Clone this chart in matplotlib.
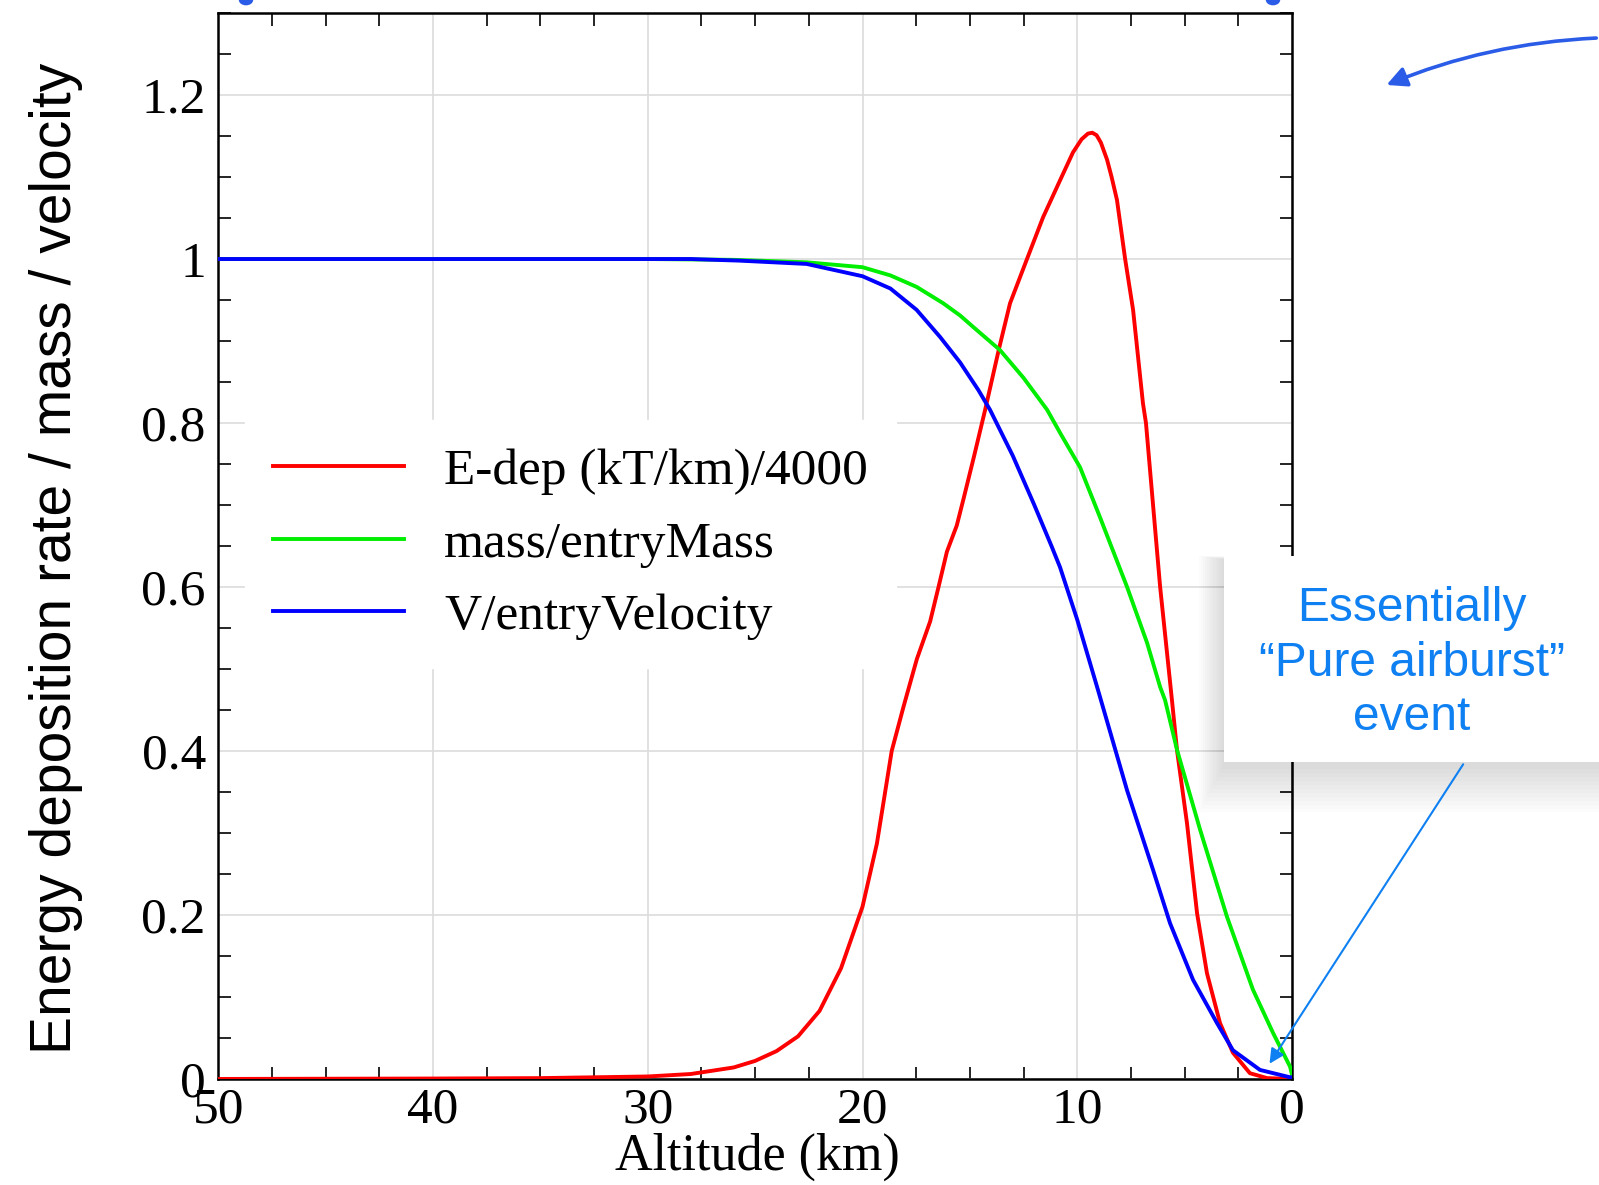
import matplotlib
matplotlib.use("Agg")
import matplotlib.pyplot as plt
from matplotlib.patches import Rectangle, FancyArrowPatch, Circle
from matplotlib.ticker import MultipleLocator, FuncFormatter

# values (altitude km, normalised value)
edep_alt = [50, 40, 35, 30, 28, 26, 25, 24, 23, 22, 21, 20, 19.33, 18.64, 18.09,
            17.47, 16.85, 16.46, 16.07, 15.61, 15.3, 14.8, 14.29, 13.64, 13.13,
            12.34, 11.59, 10.8, 10.5, 10.2, 9.8, 9.5, 9.3, 9.1, 8.9, 8.61, 8.4,
            8.15, 7.77, 7.4, 6.94, 6.8, 6.14, 5.59, 5.35, 4.89, 4.42, 3.96, 3.35,
            2.75, 1.96, 1.16, 0]
edep_val = [0.0, 0.0005, 0.001, 0.003, 0.006, 0.014, 0.022, 0.034, 0.052, 0.083,
            0.135, 0.21, 0.287, 0.40, 0.454, 0.512, 0.558, 0.60, 0.643, 0.675,
            0.707, 0.76, 0.816, 0.891, 0.946, 1.0, 1.051, 1.096, 1.113, 1.13,
            1.146, 1.153, 1.154, 1.151, 1.142, 1.121, 1.1, 1.072, 1.0, 0.938,
            0.824, 0.80, 0.60, 0.462, 0.40, 0.312, 0.202, 0.129, 0.068, 0.032,
            0.007, 0.001, 0.0]

mass_alt = [50, 30, 26, 22.6, 20, 18.7, 17.48, 16.24, 15.45, 14.84, 13.6, 12.5,
            11.4, 10.8, 9.87, 8.94, 7.68, 6.75, 6.14, 5.91, 5.35, 4.28, 3.03,
            1.82, 0.88, 0.09, 0]
mass_val = [1.0, 1.0, 0.999, 0.996, 0.99, 0.98, 0.966, 0.946, 0.931, 0.917, 0.889,
            0.855, 0.816, 0.788, 0.746, 0.685, 0.60, 0.532, 0.478, 0.462, 0.401,
            0.304, 0.198, 0.109, 0.056, 0.015, 0.005]

vel_alt = [50, 28, 25.7, 22.6, 20, 18.7, 17.48, 16.39, 15.46, 14.6, 14.06, 13,
           12, 11.2, 10.8, 10, 9.03, 7.68, 6.47, 5.68, 4.61, 3.49, 2.75, 1.49,
           0.09, 0]
vel_val = [1.0, 1.0, 0.998, 0.994, 0.979, 0.964, 0.938, 0.905, 0.874, 0.840,
           0.816, 0.76, 0.70, 0.65, 0.624, 0.56, 0.474, 0.352, 0.255, 0.19,
           0.121, 0.068, 0.035, 0.011, 0.002, 0.002]

labels = ["E-dep (kT/km)/4000", "mass/entryMass", "V/entryVelocity"]
colors = ["#ff0000", "#00ee00", "#0000ff"]

serif = ["Liberation Serif", "DejaVu Serif"]
narrow = ["Liberation Sans Narrow", "Liberation Sans", "DejaVu Sans"]
sans = ["Liberation Sans", "DejaVu Sans"]

fig = plt.figure(figsize=(15.99, 11.85), dpi=100)
ax = fig.add_axes([0.1365, 0.0895, 0.6715, 0.8995])

ax.plot(edep_alt, edep_val, color=colors[0], lw=2.8, label=labels[0], zorder=3)
ax.plot(mass_alt, mass_val, color=colors[1], lw=2.8, label=labels[1], zorder=3)
ax.plot(vel_alt, vel_val, color=colors[2], lw=2.8, label=labels[2], zorder=3)

ax.set_xlim(50, 0)
ax.set_ylim(0, 1.3)
ax.xaxis.set_major_locator(MultipleLocator(10))
ax.xaxis.set_minor_locator(MultipleLocator(2.5))
ax.yaxis.set_major_locator(MultipleLocator(0.2))
ax.yaxis.set_minor_locator(MultipleLocator(0.05))
ax.yaxis.set_major_formatter(FuncFormatter(lambda v, p: "%g" % round(v, 2)))
ax.xaxis.set_major_formatter(FuncFormatter(lambda v, p: "%g" % v))

ax.grid(True, which="major", color="#dcdcdc", lw=1.2)
ax.set_axisbelow(True)
ax.tick_params(which="major", length=0, labelsize=37)
ax.tick_params(axis="x", which="major", pad=6)
ax.tick_params(axis="y", which="major", pad=9)
ax.tick_params(which="minor", direction="in", length=9, width=1.2,
               top=True, right=True, bottom=True, left=True)
for lab in ax.get_xticklabels() + ax.get_yticklabels():
    lab.set_family(serif)
for sp in ax.spines.values():
    sp.set_linewidth(1.8)

leg = ax.legend(loc="upper left", bbox_to_anchor=(0.025, 0.618),
                prop={"family": serif, "size": 37}, frameon=True,
                fancybox=False, framealpha=1, edgecolor="white",
                handlelength=2.55, handletextpad=0.77, labelspacing=0.49,
                borderpad=0.55, borderaxespad=0)
for ln in leg.get_lines():
    ln.set_linewidth(2.8)

fig.text(0.035, 0.529, "Energy deposition rate / mass / velocity",
         rotation=90, ha="center", va="center", fontsize=41, family=narrow)
fig.text(0.4734, 0.024, "Altitude (km)", ha="center", va="center",
         fontsize=37.5, family=serif)

# callout box with soft shadow
bx, by, bw, bh = 0.7655, 0.357, 0.26, 0.174
for i in range(12):
    g = 0.0022 * (i + 1)
    fig.add_artist(Rectangle((bx - 0.6 * g, by - 1.5 * g - 0.003),
                             bw + 1.2 * g, bh + 1.6 * g,
                             transform=fig.transFigure, facecolor="#000000",
                             edgecolor="none", alpha=0.012, zorder=9))
fig.add_artist(Rectangle((bx, by), bw, bh, transform=fig.transFigure,
                         facecolor="white", edgecolor="none", zorder=10))
fig.text(0.883, 0.4405, "Essentially\n\u201cPure airburst\u201d\nevent",
         ha="center", va="center", fontsize=34.5, color="#0f80f2",
         family=sans, linespacing=1.28, zorder=11)

fig.add_artist(FancyArrowPatch((0.916, 0.357), (0.793, 0.1004),
                               transform=fig.transFigure, arrowstyle="-|>",
                               mutation_scale=22, lw=1.5, color="#0f80f2",
                               zorder=11))

# curved arrow at top right
fig.add_artist(FancyArrowPatch((1.0, 0.968), (0.8655, 0.9274),
                               transform=fig.transFigure, arrowstyle="-|>",
                               connectionstyle="arc3,rad=0.09",
                               mutation_scale=30, lw=2.6, color="#2b5ce8",
                               zorder=11))

# bits of cut-off title text at the top edge
for cx in [246 / 1599, 1273 / 1599]:
    fig.add_artist(Circle((cx, 1.0), 0.0045, transform=fig.transFigure,
                          facecolor="#2b5ce8", edgecolor="none", zorder=11))

fig.savefig("out.png", dpi=100)
